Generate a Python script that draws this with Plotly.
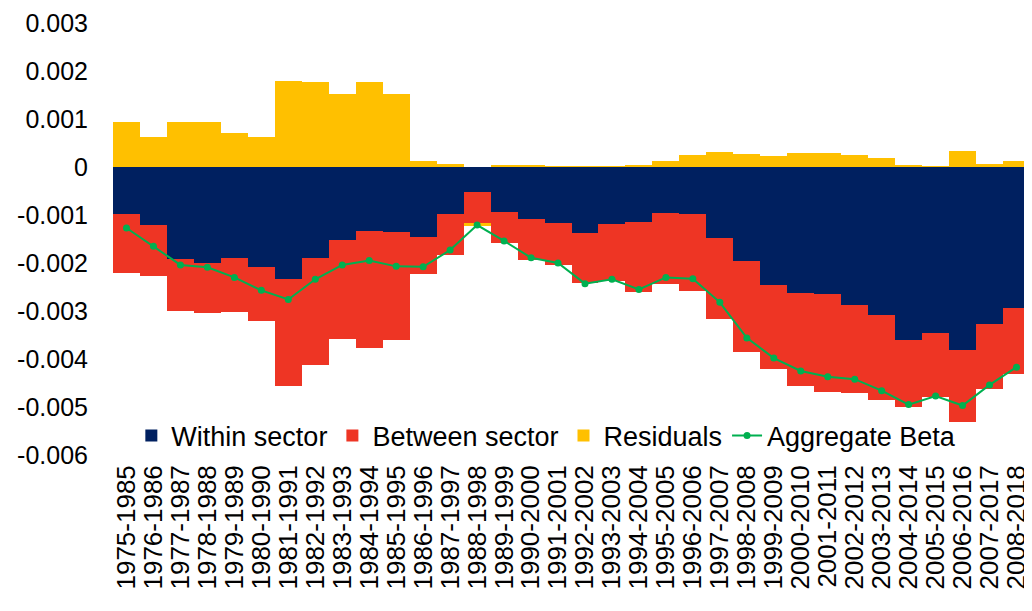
import plotly.graph_objects as go

periods = [f"{y}-{y + 10}" for y in range(1975, 2009)]

# values in units of 0.001
within = [-0.98, -1.21, -1.91, -2.00, -1.89, -2.08, -2.33, -1.89, -1.52, -1.33, -1.35,
          -1.46, -0.97, -0.53, -0.93, -1.08, -1.16, -1.38, -1.18, -1.14, -0.95, -0.97,
          -1.48, -1.95, -2.46, -2.62, -2.65, -2.87, -3.08, -3.61, -3.46, -3.81, -3.27, -2.94]
between = [-1.23, -1.07, -1.09, -1.05, -1.14, -1.12, -2.24, -2.24, -2.06, -2.44, -2.26,
           -0.77, -0.86, -0.64, -0.66, -0.86, -0.88, -1.04, -1.19, -1.47, -1.48, -1.62,
           -1.69, -1.91, -1.75, -1.95, -2.03, -1.83, -1.78, -1.38, -1.34, -1.51, -1.36, -1.38]
residuals = [0.94, 0.63, 0.94, 0.94, 0.71, 0.63, 1.80, 1.78, 1.52, 1.78, 1.52,
             0.13, 0.07, -0.05, 0.03, 0.03, 0.01, 0.01, 0.01, 0.03, 0.13, 0.25,
             0.32, 0.28, 0.23, 0.30, 0.29, 0.26, 0.19, 0.03, 0.01, 0.34, 0.07, 0.12]
aggregate = [-1.27, -1.65, -2.04, -2.09, -2.30, -2.57, -2.76, -2.34, -2.04, -1.95, -2.07,
             -2.08, -1.73, -1.21, -1.54, -1.89, -2.00, -2.43, -2.34, -2.55, -2.30, -2.33,
             -2.82, -3.56, -3.98, -4.25, -4.37, -4.42, -4.66, -4.95, -4.77, -4.97, -4.54, -4.17]

y_ticks = [0.003, 0.002, 0.001, 0, -0.001, -0.002, -0.003, -0.004, -0.005, -0.006]
y_labels = ["0.003", "0.002", "0.001", "0", "-0.001", "-0.002", "-0.003", "-0.004", "-0.005", "-0.006"]

scale = lambda v: [x / 1000 for x in v]
font = "Liberation Sans, Arial, sans-serif"

fig = go.Figure()
fig.add_trace(go.Bar(x=periods, y=scale(within), name="Within sector",
                     marker=dict(color="#002060", line_width=0)))
fig.add_trace(go.Bar(x=periods, y=scale(between), name="Between sector",
                     marker=dict(color="#EE3524", line_width=0)))
fig.add_trace(go.Bar(x=periods, y=scale(residuals), name="Residuals",
                     marker=dict(color="#FFC000", line_width=0)))
fig.add_trace(go.Scatter(x=periods, y=scale(aggregate), name="Aggregate Beta",
                         mode="lines+markers", line=dict(color="#00B050", width=2),
                         marker=dict(size=7, color="#00B050")))

# page body has an 8px margin, so the figure is shifted accordingly
fig.update_layout(
    barmode="relative", bargap=0,
    width=1032, height=611,
    margin=dict(l=105, r=10, t=15, b=164),
    plot_bgcolor="white", paper_bgcolor="white",
    font=dict(family=font, size=26, color="black"),
    legend=dict(orientation="h", x=0.02, y=0.044, xanchor="left", yanchor="middle",
                bgcolor="rgba(0,0,0,0)", font=dict(size=27), traceorder="normal",
                itemwidth=30),
    showlegend=True,
)
fig.update_yaxes(range=[-0.006, 0.003], tickmode="array", tickvals=y_ticks, ticktext=y_labels,
                 tickfont=dict(size=25),
                 showgrid=False, zeroline=True, zerolinecolor="#A6B4C8", zerolinewidth=1,
                 showline=False, ticks="", ticklabelstandoff=24, automargin=False,
                 ticklabeloverflow="allow", layer="above traces")
fig.update_xaxes(range=[-0.5, 33.5], tickangle=-90, tickfont=dict(size=26), showgrid=False,
                 showline=False, ticks="", tickmode="linear", dtick=1, automargin=False,
                 ticklabelstandoff=4, ticklabeloverflow="allow")

fig.write_html("out.html")
